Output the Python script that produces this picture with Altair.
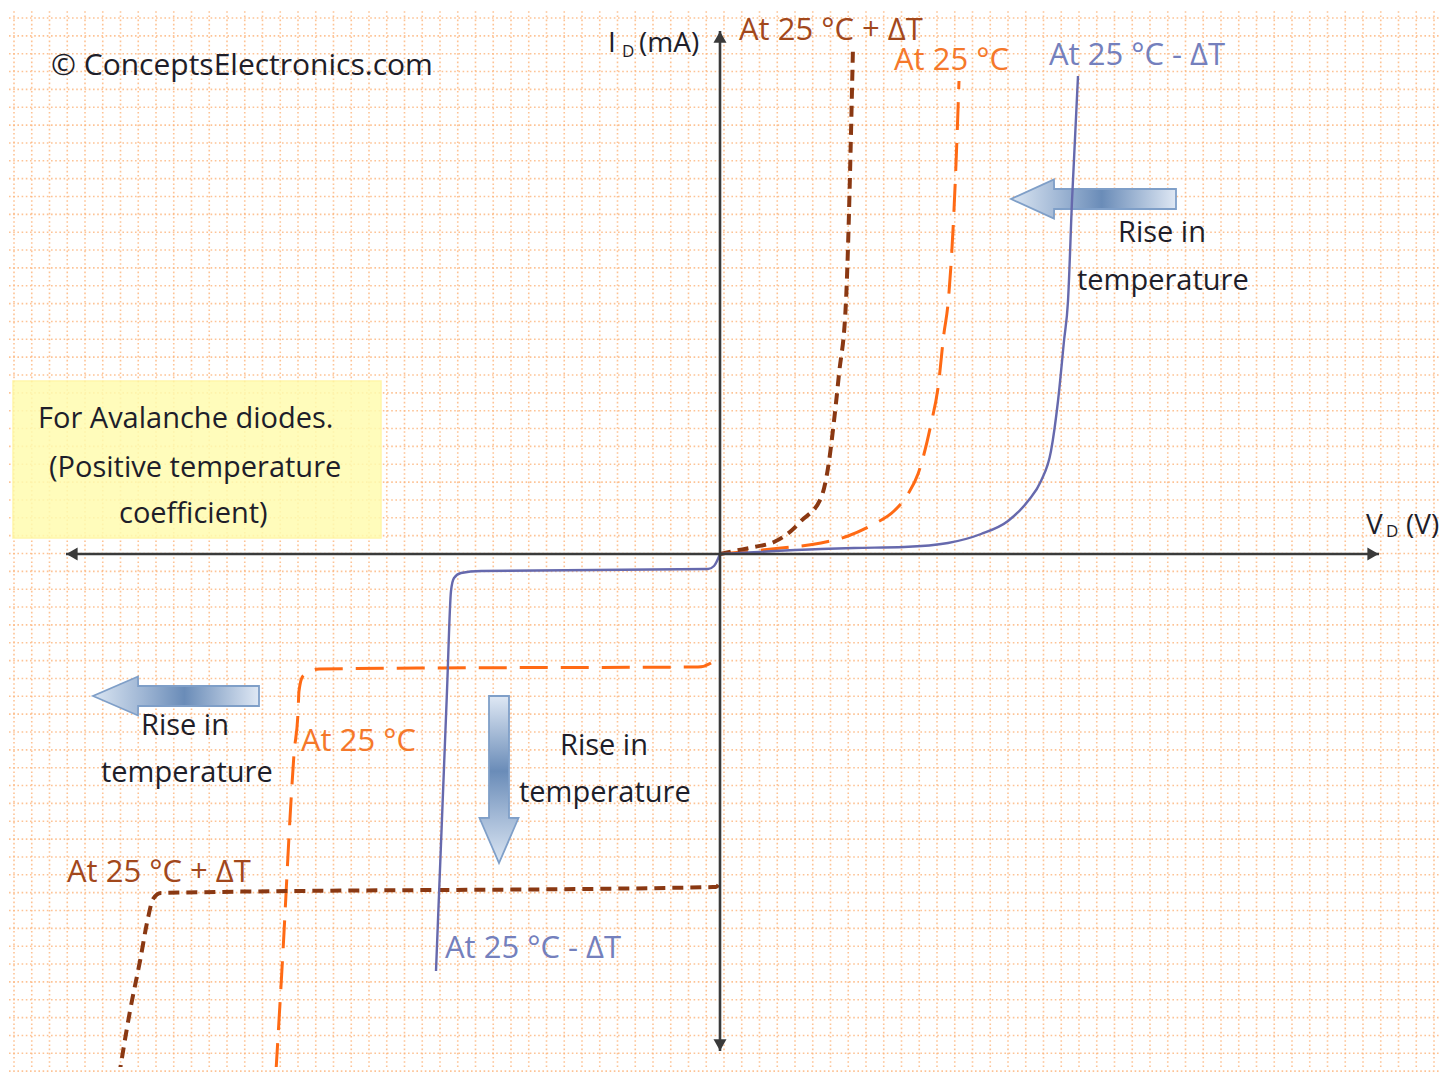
import altair as alt
import pandas as pd
import numpy as np

# ---------------- data (arbitrary units: V to the right, I upwards) ----------------
blue_fwd_v = [0, 10.1, 13.4, 18.4, 22.8, 26.1, 28.8, 30.8, 32.1, 33.1, 33.8, 34.4, 34.8, 35.2, 35.8]
blue_fwd_i = [0, 0.5, 0.6, 0.7, 1.1, 2.0, 3.3, 5.3, 7.3, 10.3, 15.3, 21.3, 25.3, 35.3, 47.8]
blue_rev_v = [0, -0.6, -1.2, -23.9, -25.9, -26.6, -26.9, -27.3, -28.4]
blue_rev_i = [0, -1.2, -1.5, -1.7, -1.9, -2.4, -3.7, -13.7, -41.7]

orng_fwd_v = [0, 6.1, 10.1, 12.8, 15.4, 17.4, 18.8, 19.8, 20.4, 21.1, 21.8, 22.4, 22.8, 23.6, 23.9]
orng_fwd_i = [0, 0.6, 1.1, 1.8, 3.0, 4.3, 6.0, 8.0, 10.0, 13.0, 16.6, 22.1, 25.0, 39.0, 47.3]
orng_rev_v = [-0.1, -0.9, -2.2, -28.9, -40.1, -41.7, -42.1, -42.2, -42.6, -42.9, -43.7, -44.4]
orng_rev_i = [-10.0, -10.9, -11.3, -11.4, -11.5, -12.2, -13.7, -15.9, -20.0, -24.7, -39.7, -51.7]

brwn_fwd_v = [0, 1.4, 3.4, 5.4, 7.1, 8.1, 10.1, 10.8, 11.4, 11.9, 12.6, 13.3]
brwn_fwd_i = [0, 0.3, 0.7, 1.2, 2.3, 3.3, 5.6, 8.6, 13.3, 18.0, 25.3, 50.8]
brwn_rev_v = [-0.1, -0.4, -55.9, -56.7, -57.2, -58.0, -59.0, -60.1]
brwn_rev_i = [-33.0, -33.3, -33.9, -34.5, -36.4, -40.7, -45.7, -52.2]

label_text = ["© ConceptsElectronics.com", "I", "D", "(mA)", "V", "D", "(V)",
              "At 25 °C + ΔT", "At 25 °C", "At 25 °C - ΔT",
              "Rise in", "temperature",
              "For Avalanche diodes.", "(Positive temperature", "coefficient)",
              "Rise in", "temperature", "At 25 °C",
              "Rise in", "temperature", "At 25 °C + ΔT", "At 25 °C - ΔT"]
label_x = [-66.9, -11.2, -9.8, -8.1, 64.6, 66.6, 68.6,
           1.9, 17.4, 32.9,
           39.8, 35.7,
           -68.2, -67.1, -60.1,
           -57.9, -61.9, -41.9,
           -16.0, -20.1, -65.3, -27.5]
label_y = [48.8, 51.0, 50.2, 51.0, 2.8, 2.2, 2.8,
           52.3, 49.3, 49.8,
           32.1, 27.3,
           13.5, 8.6, 4.0,
           -17.2, -21.9, -18.8,
           -19.2, -23.9, -31.9, -39.5]
label_color = ["#1e1e2a", "#1e1e2a", "#1e1e2a", "#1e1e2a", "#1e1e2a", "#1e1e2a", "#1e1e2a",
               "#a2481c", "#f5782a", "#7480bd",
               "#1e1e2a", "#1e1e2a",
               "#1e1e2a", "#1e1e2a", "#1e1e2a",
               "#1e1e2a", "#1e1e2a", "#f5782a",
               "#1e1e2a", "#1e1e2a", "#a2481c", "#7480bd"]
label_size = [30, 28, 17, 28, 28, 17, 28,
              31, 31, 31,
              29, 29,
              29, 29, 29,
              29, 29, 31,
              29, 29, 31, 31]

# gradient arrows: (tip, head base, tail, centre)
harrow_tip = [29.1, -62.7]
harrow_base = [33.4, -58.2]
harrow_tail = [45.6, -46.1]
harrow_c = [35.5, -14.2]
varrow_tip = [-30.9]
varrow_base = [-26.4]
varrow_tail = [-14.2]
varrow_c = [-22.1]
head_half = 1.95
shaft_half = 1.0

# axes
xaxis_from, xaxis_to = -65.4, 65.9
yaxis_from, yaxis_to = -49.7, 52.3

# box
box_x, box_x2, box_y, box_y2 = -70.7, -33.9, 17.3, 1.6

# ---------------- layout ----------------
W, H = 1430, 1058
XD = [-71.1, 71.9]
YD = [-51.3, 54.5]
xs = alt.Scale(domain=XD, nice=False, zero=False)
ys = alt.Scale(domain=YD, nice=False, zero=False)

# grid (background of squared paper)
gx = [(13 + 17.75 * k - 719) / 10 for k in range(81)]
gy = [(553 - (17 + 17.85 * k)) / 10 for k in range(60)]
grid_v = pd.DataFrame({"x": gx, "y": YD[0], "y2": YD[1]})
grid_h = pd.DataFrame({"y": gy, "x": XD[0], "x2": XD[1]})
grid_style = dict(color="#fcb47a", strokeWidth=1.6, strokeDash=[1.6, 2.6], opacity=0.8)
gv = alt.Chart(grid_v).mark_rule(**grid_style).encode(
    x=alt.X("x:Q", scale=xs, axis=None),
    y=alt.Y("y:Q", scale=ys, axis=None), y2="y2:Q")
gh = alt.Chart(grid_h).mark_rule(**grid_style).encode(
    y=alt.Y("y:Q", scale=ys, axis=None),
    x=alt.X("x:Q", scale=xs, axis=None), x2="x2:Q")

box = alt.Chart(pd.DataFrame({"x": [box_x], "x2": [box_x2], "y": [box_y], "y2": [box_y2]})).mark_rect(
    fill="#fffcb0", opacity=0.85, stroke="#fff59a", strokeWidth=1.5).encode(
    x=alt.X("x:Q", scale=xs, axis=None), x2="x2:Q",
    y=alt.Y("y:Q", scale=ys, axis=None), y2="y2:Q")

def curve_df(fv, fi, rv, ri):
    rows = []
    for a, b in zip(fv, fi):
        rows.append({"v": a, "i": b, "branch": "f"})
    for a, b in zip(rv, ri):
        rows.append({"v": a, "i": b, "branch": "r"})
    return pd.DataFrame(rows)

def curve(df, **style):
    return alt.Chart(df).mark_line(clip=True, interpolate="monotone", **style).encode(
        x=alt.X("v:Q", scale=xs, axis=None),
        y=alt.Y("i:Q", scale=ys, axis=None),
        detail="branch:N", order="v:Q")

blue = curve(curve_df(blue_fwd_v, blue_fwd_i, blue_rev_v, blue_rev_i),
             color="#6669ad", strokeWidth=2.4)
orng = curve(curve_df(orng_fwd_v, orng_fwd_i, orng_rev_v, orng_rev_i),
             color="#ff6a14", strokeWidth=3, strokeDash=[28, 13])
brwn = curve(curve_df(brwn_fwd_v, brwn_fwd_i, brwn_rev_v, brwn_rev_i),
             color="#8a3812", strokeWidth=4, strokeDash=[11, 7])

# axes
axes_df = pd.DataFrame({"x": [xaxis_from, 0], "x2": [xaxis_to, 0],
                        "y": [0, yaxis_from], "y2": [0, yaxis_to]})
axes = alt.Chart(axes_df).mark_rule(color="#3a3a3a", strokeWidth=2.6).encode(
    x=alt.X("x:Q", scale=xs, axis=None), x2="x2:Q",
    y=alt.Y("y:Q", scale=ys, axis=None), y2="y2:Q")
heads_df = pd.DataFrame({"x": [xaxis_to - 0.6, xaxis_from + 0.6, 0, 0],
                         "y": [0, 0, yaxis_to - 0.6, yaxis_from + 0.6],
                         "shape": ["triangle-right", "triangle-left", "triangle-up", "triangle-down"]})
heads = alt.Chart(heads_df).mark_point(filled=True, color="#3a3a3a", size=170, opacity=1).encode(
    x=alt.X("x:Q", scale=xs, axis=None), y=alt.Y("y:Q", scale=ys, axis=None),
    shape=alt.Shape("shape:N", scale=None))

# gradient arrows
def stops():
    return [alt.GradientStop(color="#dae5f2", offset=0),
            alt.GradientStop(color="#9fb6d4", offset=0.3),
            alt.GradientStop(color="#6a8cb8", offset=0.55),
            alt.GradientStop(color="#dfe8f4", offset=1)]

harrow_layers = []
for tip, base, tail, c in zip(harrow_tip, harrow_base, harrow_tail, harrow_c):
    d = pd.DataFrame({"x": [tip, base, base + 0.01, tail],
                      "y": [c, c - head_half, c - shaft_half, c - shaft_half],
                      "y2": [c, c + head_half, c + shaft_half, c + shaft_half]})
    g = alt.LinearGradient(gradient="linear", stops=stops(), x1=0, x2=1, y1=0, y2=0)
    harrow_layers.append(alt.Chart(d).mark_area(color=g, stroke="#7f9fc8", strokeWidth=1.8).encode(
        x=alt.X("x:Q", scale=xs, axis=None),
        y=alt.Y("y:Q", scale=ys, axis=None), y2="y2:Q"))
varrow_layers = []
for tip, base, tail, c in zip(varrow_tip, varrow_base, varrow_tail, varrow_c):
    d = pd.DataFrame({"y": [tip, base, base + 0.01, tail],
                      "x": [c, c - head_half, c - shaft_half, c - shaft_half],
                      "x2": [c, c + head_half, c + shaft_half, c + shaft_half]})
    g = alt.LinearGradient(gradient="linear", stops=stops(), x1=0, x2=0, y1=1, y2=0)
    varrow_layers.append(alt.Chart(d).mark_area(color=g, stroke="#7f9fc8", strokeWidth=1.8,
                                                 orient="horizontal").encode(
        y=alt.Y("y:Q", scale=ys, axis=None),
        x=alt.X("x:Q", scale=xs, axis=None), x2="x2:Q"))

labels_df = pd.DataFrame({"t": label_text, "x": label_x, "y": label_y,
                          "c": label_color, "s": label_size})
labels = alt.Chart(labels_df).mark_text(align="left", baseline="middle", font="Open Sans").encode(
    x=alt.X("x:Q", scale=xs, axis=None), y=alt.Y("y:Q", scale=ys, axis=None),
    text="t:N", color=alt.Color("c:N", scale=None), size=alt.Size("s:Q", scale=None))

chart = alt.layer(gv, gh, box, *harrow_layers, *varrow_layers, orng, brwn, blue,
                  axes, heads, labels).properties(
    width=W, height=H, padding=0, background="white"
).configure_view(stroke=None)

chart.save("out.html", embed_options={"renderer": "svg", "actions": False})
